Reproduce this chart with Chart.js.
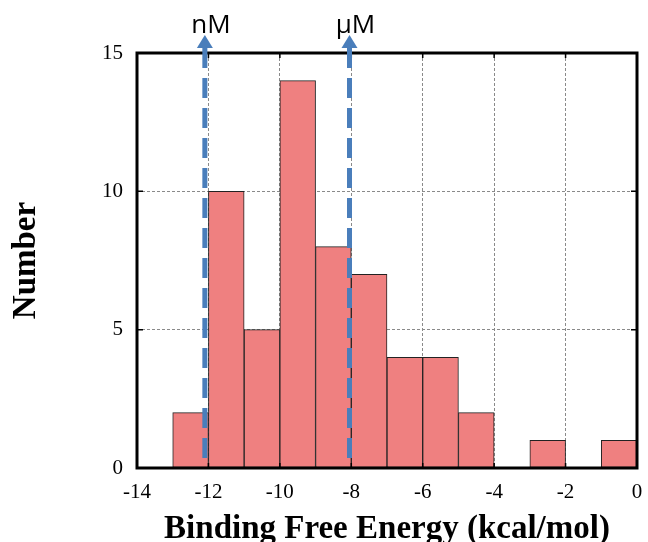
<!DOCTYPE html>
<html>
<head>
<meta charset="utf-8">
<script src="https://cdn.jsdelivr.net/npm/chart.js@4.4.1/dist/chart.umd.min.js"></script>
<style>
  html, body { margin: 0; padding: 0; background: #ffffff; overflow: hidden; }
  #wrap { position: relative; width: 648px; height: 560px; }
</style>
</head>
<body>
<div id="wrap"><canvas id="c"></canvas></div>
<script>
// ---- data ----
const binCenters = [-12.5, -11.5, -10.5, -9.5, -8.5, -7.5, -6.5, -5.5, -4.5, -3.5, -2.5, -1.5, -0.5];
const counts     = [2, 10, 5, 14, 8, 7, 4, 4, 2, 0, 1, 0, 1];
const xTicks     = [-14, -12, -10, -8, -6, -4, -2, 0];
const yTicks     = [0, 5, 10, 15];
const markerValues = [-12.1, -8.05];
const markerLabels = ['nM', 'μM'];
const xTitle = 'Binding Free Energy (kcal/mol)';
const yTitle = 'Number';

const points = binCenters.map((x, i) => ({ x: x, y: counts[i] }));

const framePlugin = {
  id: 'frame',
  afterDatasetsDraw(chart) {
    const { ctx, chartArea: a, scales } = chart;
    const xs = scales.x, ys = scales.y;
    ctx.save();
    // inner tick marks
    ctx.strokeStyle = '#000';
    ctx.lineWidth = 1.5;
    ctx.beginPath();
    xTicks.forEach(v => {
      const px = xs.getPixelForValue(v);
      ctx.moveTo(px, a.bottom); ctx.lineTo(px, a.bottom - 5);
      ctx.moveTo(px, a.top); ctx.lineTo(px, a.top + 5);
    });
    yTicks.forEach(v => {
      const py = ys.getPixelForValue(v);
      ctx.moveTo(a.left, py); ctx.lineTo(a.left + 6, py);
      ctx.moveTo(a.right, py); ctx.lineTo(a.right - 6, py);
    });
    ctx.stroke();
    // frame
    ctx.lineWidth = 3;
    ctx.strokeRect(a.left, a.top, a.right - a.left, a.bottom - a.top);

    // concentration markers: dashed arrows
    const color = '#4A7EBB';
    markerValues.forEach((v, i) => {
      const px = xs.getPixelForValue(v);
      const tipY = a.top - 18;
      const baseY = a.top - 5;
      ctx.strokeStyle = color;
      ctx.lineWidth = 5;
      ctx.setLineDash([20, 10]);
      ctx.beginPath();
      ctx.moveTo(px, baseY);
      ctx.lineTo(px, ys.getPixelForValue(0) - 1);
      ctx.stroke();
      ctx.setLineDash([]);
      ctx.fillStyle = color;
      ctx.beginPath();
      ctx.moveTo(px, tipY);
      ctx.lineTo(px - 8, baseY);
      ctx.lineTo(px + 8, baseY);
      ctx.closePath();
      ctx.fill();
      ctx.fillStyle = '#000';
      ctx.font = '26px "Open Sans"';
      ctx.textAlign = 'center';
      ctx.textBaseline = 'alphabetic';
      ctx.fillText(markerLabels[i], px + 6, tipY - 2);
    });
    ctx.restore();
  }
};

new Chart(document.getElementById('c'), {
  type: 'bar',
  data: {
    datasets: [{
      data: points,
      backgroundColor: '#EF8080',
      borderColor: '#222',
      borderWidth: 1,
      borderSkipped: false,
      barPercentage: 1.0,
      categoryPercentage: 1.0
    }]
  },
  options: {
    responsive: true,
    maintainAspectRatio: false,
    animation: false,
    layout: { padding: { top: 53, right: 11, left: 0, bottom: 0 } },
    plugins: { legend: { display: false }, tooltip: { enabled: false } },
    scales: {
      x: {
        type: 'linear',
        min: -14, max: 0,
        offset: false,
        afterBuildTicks(scale) { scale.ticks = xTicks.map(v => ({ value: v })); },
        afterFit(scale) { scale.height = 92; scale.paddingLeft = 0; scale.paddingRight = 0; },
        grid: { offset: false, color: '#8a8a8a', lineWidth: 1, drawTicks: false },
        border: { display: false, dash: [3, 2] },
        ticks: {
          color: '#000', padding: 12,
          font: { family: '"Liberation Serif"', size: 21 },
          maxRotation: 0, autoSkip: false,
          callback: v => String(v)
        },
        title: {
          display: true, text: xTitle, color: '#000',
          font: { family: '"Liberation Serif"', size: 33, weight: 'bold' },
          padding: { top: 0, bottom: 11 }
        }
      },
      y: {
        min: 0, max: 15,
        afterBuildTicks(scale) { scale.ticks = yTicks.map(v => ({ value: v })); },
        afterFit(scale) { scale.width = 137; scale.paddingTop = 0; scale.paddingBottom = 0; },
        grid: { color: '#8a8a8a', lineWidth: 1, drawTicks: false },
        border: { display: false, dash: [3, 2] },
        ticks: {
          color: '#000', padding: 14,
          font: { family: '"Liberation Serif"', size: 21 },
          callback: v => String(v)
        },
        title: {
          display: true, text: yTitle, color: '#000',
          font: { family: '"Liberation Serif"', size: 33, weight: 'bold' },
          padding: { top: 7, bottom: 0 }
        }
      }
    }
  },
  plugins: [framePlugin]
});
</script>
</body>
</html>
